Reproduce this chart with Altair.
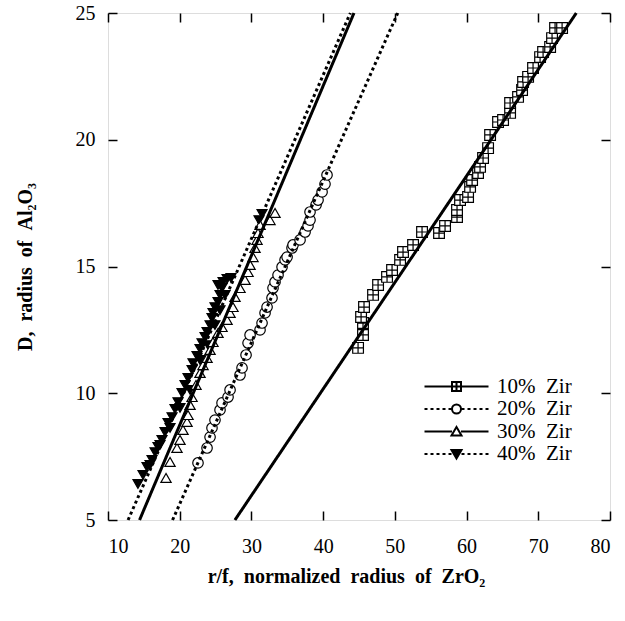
import altair as alt
import pandas as pd

series_names = ["10% Zir", "20% Zir", "30% Zir", "40% Zir"]

zir10_x = [44.87, 45.56, 45.56, 45.29, 45.70, 46.96, 47.66, 48.91, 49.61, 50.73, 51.14, 52.54,
           53.79, 56.16, 57.00, 58.67, 58.67, 59.09, 60.21, 60.49, 60.77, 61.60, 61.88, 62.30,
           63.00, 63.28, 64.39, 65.09, 66.07, 66.07, 67.18, 67.74, 67.88, 68.58, 69.27, 70.25,
           70.67, 71.65, 71.92, 72.34, 73.32]
zir10_y = [11.79, 12.30, 12.77, 13.01, 13.40, 13.88, 14.27, 14.59, 14.86, 15.26, 15.57, 15.85,
           16.36, 16.32, 16.60, 16.95, 17.23, 17.62, 17.74, 18.14, 18.41, 18.69, 18.93, 19.28,
           19.67, 20.19, 20.70, 20.78, 21.06, 21.45, 21.69, 21.96, 22.28, 22.48, 22.83, 23.26,
           23.46, 23.66, 24.01, 24.41, 24.41]

zir20_x = [22.55, 23.81, 24.23, 24.50, 24.92, 25.62, 25.90, 26.74, 27.02, 28.41, 28.69, 29.25,
           29.53, 29.81, 31.20, 31.48, 31.90, 32.18, 32.87, 33.01, 33.29, 33.71, 34.27, 34.69,
           34.97, 35.66, 35.80, 36.78, 37.48, 37.89, 38.17, 38.17, 39.01, 39.29, 39.85, 40.26,
           40.54]
zir20_y = [7.25, 7.84, 8.27, 8.63, 8.94, 9.34, 9.62, 9.85, 10.13, 10.72, 11.00, 11.51,
           11.98, 12.30, 12.50, 12.77, 13.17, 13.40, 13.76, 14.15, 14.39, 14.66, 14.98, 15.26,
           15.37, 15.73, 15.85, 16.05, 16.36, 16.60, 16.83, 17.15, 17.43, 17.62, 17.94, 18.25,
           18.61]

zir30_x = [18.09, 18.65, 19.62, 20.04, 20.46, 21.02, 21.16, 21.44, 21.72, 22.27, 22.83, 23.25,
           23.81, 24.23, 24.64, 25.34, 25.90, 26.60, 27.02, 27.43, 27.71, 28.41, 29.11, 29.53,
           29.81, 30.22, 30.50, 30.78, 30.92, 31.20, 32.59, 33.29]
zir30_y = [6.66, 7.29, 7.84, 8.16, 8.55, 8.87, 9.14, 9.54, 9.85, 10.33, 10.80, 11.11,
           11.39, 11.71, 12.02, 12.38, 12.61, 12.89, 13.17, 13.40, 13.80, 14.15, 14.47, 14.78,
           15.06, 15.37, 15.73, 16.05, 16.32, 16.64, 16.83, 17.11]

zir40_x = [14.18, 14.88, 15.44, 16.14, 16.56, 16.97, 17.53, 17.95, 18.37, 18.93, 19.34, 19.76,
           20.32, 20.74, 21.16, 21.72, 21.85, 22.41, 22.83, 23.11, 23.53, 23.81, 24.23, 24.50,
           24.64, 24.92, 25.34, 25.62, 25.90, 26.04, 26.60, 27.15, 31.06, 31.48,
           15.86, 17.25, 18.65, 20.04, 21.44, 22.83, 23.95, 24.92, 25.62, 26.32, 25.34]
zir40_y = [6.42, 6.78, 7.09, 7.37, 7.68, 7.88, 8.16, 8.47, 8.83, 9.06, 9.38, 9.65,
           10.01, 10.33, 10.60, 10.92, 11.19, 11.47, 11.75, 11.98, 12.22, 12.42, 12.69, 12.97,
           13.17, 13.40, 13.60, 13.88, 14.15, 14.39, 14.51, 14.55, 16.83, 17.07,
           7.17, 7.96, 8.63, 9.42, 10.13, 11.31, 11.90, 12.69, 13.28, 13.88, 14.27]

# fitted straight lines: x at y = 5 and at y = 25
fit_x_start = [27.7, 19.0, 14.4, 12.8]
fit_x_end = [75.3, 50.4, 44.3, 43.8]
fit_y = [5, 25]

x_ticks = [10, 20, 30, 40, 50, 60, 70, 80]
y_ticks = [5, 10, 15, 20, 25]

# ---- tables ----
pts = []
for name, xs, ys in [("40% Zir", zir40_x, zir40_y), ("30% Zir", zir30_x, zir30_y),
                     ("20% Zir", zir20_x, zir20_y), ("10% Zir", zir10_x, zir10_y)]:
    for a, b in zip(xs, ys):
        pts.append({"x": a, "y": b, "series": name})
points_df = pd.DataFrame(pts)

lines = []
for name, x0, x1 in zip(series_names, fit_x_start, fit_x_end):
    lines.append({"x": x0, "y": fit_y[0], "series": name})
    lines.append({"x": x1, "y": fit_y[1], "series": name})
lines_df = pd.DataFrame(lines)

# ---- styles ----
SERIF = "Liberation Serif"
SQ_CROSS = "M-1,-1H1V1H-1Z M0,-1V1 M-1,0H1"
point_shapes = [SQ_CROSS, "circle", "triangle-up", "triangle-down"]
point_fills = ["white", "white", "white", "black"]
dashes = [[1, 0], [3, 3], [1, 0], [3, 3]]


def seg_solid():
    return "M-6.4,0H-0.9 M0.9,0H6.4 "


def seg_dotted():
    s = ""
    x = -6.4
    while x < -1.0:
        s += f"M{x:.2f},0H{x + 0.6:.2f} "
        x += 1.2
    x = 1.0
    while x < 6.4:
        s += f"M{x:.2f},0H{min(x + 0.6, 6.4):.2f} "
        x += 1.2
    return s


leg_sq = "M-0.9,-0.9H0.9V0.9H-0.9Z M0,-0.9V0.9 M-0.9,0H0.9"
leg_circ = "M0.9,0A0.9,0.9 0 1,1 -0.9,0A0.9,0.9 0 1,1 0.9,0Z"
leg_tri_up = "M0,-0.9L1,0.8L-1,0.8Z"
leg_tri_dn = "M0,0.9L1,-0.8L-1,-0.8Z"
legend_shapes = [seg_solid() + leg_sq, seg_dotted() + leg_circ,
                 seg_solid() + leg_tri_up, seg_dotted() + leg_tri_dn]

xscale = alt.Scale(domain=[10, 80], nice=False, zero=False)
yscale = alt.Scale(domain=[5, 25], nice=False, zero=False)

common_axis = dict(grid=False, domain=False, tickColor="black", tickWidth=1.5,
                   tickSize=9, offset=-9, labelFont=SERIF, labelFontSize=20,
                   labelColor="black", titleFont=SERIF, titleFontSize=20,
                   titleFontWeight="bold", titleColor="black")

x_bottom = alt.Axis(orient="bottom", values=x_ticks, labelPadding=16,
                    title="r/f,\u00a0\u00a0normalized\u00a0\u00a0radius\u00a0\u00a0of\u00a0\u00a0ZrO\u2082",
                    titlePadding=10, titleX=238, **common_axis)
y_left = alt.Axis(orient="left", values=y_ticks, labelPadding=13,
                  title="D,\u00a0\u00a0radius\u00a0\u00a0of\u00a0\u00a0Al\u2082O\u2083",
                  titlePadding=40, **common_axis)
x_top = alt.Axis(orient="top", values=x_ticks, labels=False, title=None, **common_axis)
y_right = alt.Axis(orient="right", values=y_ticks, labels=False, title=None, **common_axis)

lines_layer = alt.Chart(lines_df).mark_line(color="black", strokeWidth=3).encode(
    x=alt.X("x:Q", scale=xscale, axis=x_bottom),
    y=alt.Y("y:Q", scale=yscale, axis=y_left),
    detail="series:N",
    strokeDash=alt.StrokeDash("series:N", scale=alt.Scale(domain=series_names, range=dashes),
                              legend=None),
)

size_scale = alt.Scale(domain=series_names, range=[115, 100, 130, 115])
points_layer = alt.Chart(points_df).mark_point(stroke="black", strokeWidth=1.2, opacity=1).encode(
    x=alt.X("x:Q", scale=xscale, axis=x_top),
    y=alt.Y("y:Q", scale=yscale, axis=y_right),
    shape=alt.Shape("series:N", scale=alt.Scale(domain=series_names, range=point_shapes),
                    legend=None),
    fill=alt.Fill("series:N", scale=alt.Scale(domain=series_names, range=point_fills),
                  legend=None),
    size=alt.Size("series:N", scale=size_scale, legend=None),
)

leg = alt.Legend(orient="none", legendX=338, legendY=363, title=None, symbolSize=100,
                 symbolStrokeWidth=2, symbolStrokeColor="black", symbolOpacity=1,
                 labelFont=SERIF, labelFontSize=21, labelColor="black", labelOffset=30,
                 rowPadding=0.5, padding=0,
                 labelExpr="replace(datum.label, ' ', '\u00a0\u00a0')")
legend_layer = alt.Chart(points_df).transform_filter("datum.y > 1000").mark_point(
    opacity=1, strokeWidth=2).encode(
    x=alt.X("x:Q", scale=xscale, axis=None),
    y=alt.Y("y:Q", scale=yscale, axis=None),
    shape=alt.Shape("series:N", scale=alt.Scale(domain=series_names, range=legend_shapes),
                    legend=leg),
    fill=alt.Fill("series:N", scale=alt.Scale(domain=series_names, range=point_fills),
                  legend=leg),
    stroke=alt.Stroke("series:N", scale=alt.Scale(domain=series_names,
                                                  range=["black", "black", "black", "black"]),
                      legend=leg),
)

chart = alt.layer(points_layer, lines_layer, legend_layer).resolve_scale(
    shape="independent", fill="independent", stroke="independent"
).resolve_axis(x="independent", y="independent").properties(
    width=502, height=507, autosize="none",
    padding={"left": 108, "top": 13, "right": 15, "bottom": 101},
).configure_view(stroke="black", strokeWidth=2).configure(background="white")

chart.save("out.html", embed_options={"renderer": "svg", "actions": False})
